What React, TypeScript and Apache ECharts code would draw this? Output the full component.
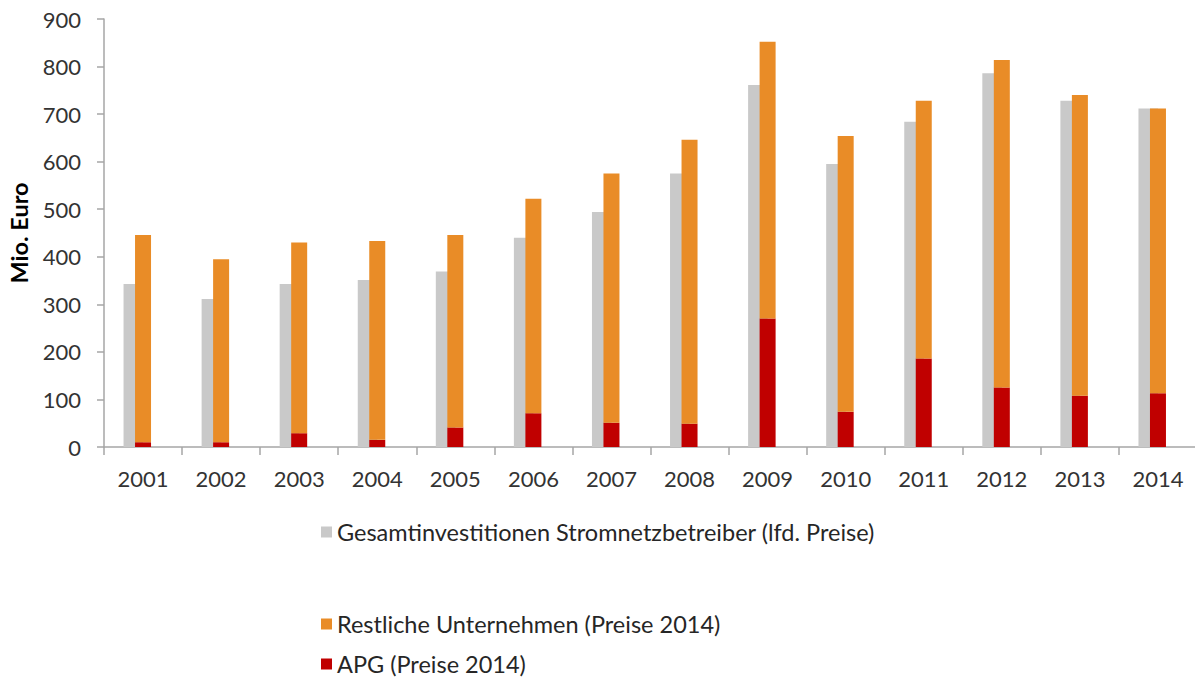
import React, { useEffect, useRef } from "react";
import * as echarts from "echarts";

const years = ["2001", "2002", "2003", "2004", "2005", "2006", "2007", "2008", "2009", "2010", "2011", "2012", "2013", "2014"];
const gesamt = [343, 311, 343, 351, 369, 440, 494, 575, 761, 595, 684, 786, 728, 712];
const totalPreise2014 = [446, 395, 430, 433, 446, 522, 575, 646, 852, 654, 728, 814, 740, 712];
const apg = [10, 10, 29, 15, 41, 71, 51, 49, 270, 74, 186, 125, 108, 113];
const restliche = totalPreise2014.map((t, i) => t - apg[i]);
const yTicks = [0, 100, 200, 300, 400, 500, 600, 700, 800, 900];

const NAME_GESAMT = "Gesamtinvestitionen Stromnetzbetreiber (lfd. Preise)";
const NAME_REST = "Restliche Unternehmen (Preise 2014)";
const NAME_APG = "APG (Preise 2014)";

const FONT = "Lato";

export default function App() {
  const ref = useRef<HTMLDivElement>(null);
  useEffect(() => {
    document.body.style.margin = "0";
    const chart = echarts.init(ref.current!, null, { renderer: "svg" });
    const legendBase = {
      orient: "horizontal",
      left: 316,
      icon: "rect",
      itemWidth: 11,
      itemHeight: 11,
      itemGap: 6,
      textStyle: { fontFamily: FONT, fontSize: 23.5, color: "#262626" },
      selectedMode: false,
    };
    chart.setOption({
      animation: false,
      backgroundColor: "#ffffff",
      grid: {
        left: 104,
        top: 19,
        width: 1093,
        height: 428,
        containLabel: false,
        outerBoundsMode: "none",
      },
      legend: [
        { ...legendBase, top: 515, data: [NAME_GESAMT] },
        { ...legendBase, top: 607, data: [NAME_REST] },
        { ...legendBase, top: 647, data: [NAME_APG] },
      ],
      xAxis: [
        {
          type: "category",
          data: years,
          boundaryGap: true,
          axisLine: { show: true, lineStyle: { color: "#A6A6A6", width: 1.5 } },
          axisTick: { show: true, length: 8, lineStyle: { color: "#A6A6A6", width: 1.5 } },
          axisLabel: { fontFamily: FONT, fontSize: 22, color: "#333333", margin: 20 },
        },
        {
          type: "category",
          data: years,
          show: false,
        },
      ],
      yAxis: {
        type: "value",
        min: 0,
        max: 900,
        interval: 100,
        name: "Mio. Euro",
        nameLocation: "middle",
        nameRotate: 90,
        nameGap: 73,
        nameTextStyle: { fontFamily: FONT, fontSize: 23.5, fontWeight: "bold", color: "#000000" },
        axisLine: { show: true, lineStyle: { color: "#A6A6A6", width: 1.5 } },
        axisTick: { show: true, length: 7, lineStyle: { color: "#A6A6A6", width: 1.5 } },
        splitLine: { show: false },
        axisLabel: {
          fontFamily: FONT,
          fontSize: 22,
          color: "#333333",
          margin: 23,
          formatter: (v: number) => (yTicks.includes(v) ? String(v) : ""),
        },
      },
      series: [
        {
          name: NAME_GESAMT,
          type: "bar",
          xAxisIndex: 0,
          barWidth: 19.5,
          barGap: "0%",
          itemStyle: { color: "#C9C9C9" },
          data: gesamt,
        },
        {
          name: "dummy",
          type: "bar",
          xAxisIndex: 0,
          barWidth: 19.5,
          barGap: "0%",
          itemStyle: { color: "transparent" },
          data: years.map(() => null),
        },
        {
          name: NAME_APG,
          type: "bar",
          xAxisIndex: 1,
          stack: "p2014",
          barWidth: 16,
          itemStyle: { color: "#C00000" },
          data: apg,
        },
        {
          name: NAME_REST,
          type: "bar",
          xAxisIndex: 1,
          stack: "p2014",
          barWidth: 16,
          itemStyle: { color: "#E98C27" },
          data: restliche,
        },
      ],
    });
    return () => chart.dispose();
  }, []);
  return <div ref={ref} style={{ width: 1195, height: 682 }} />;
}
